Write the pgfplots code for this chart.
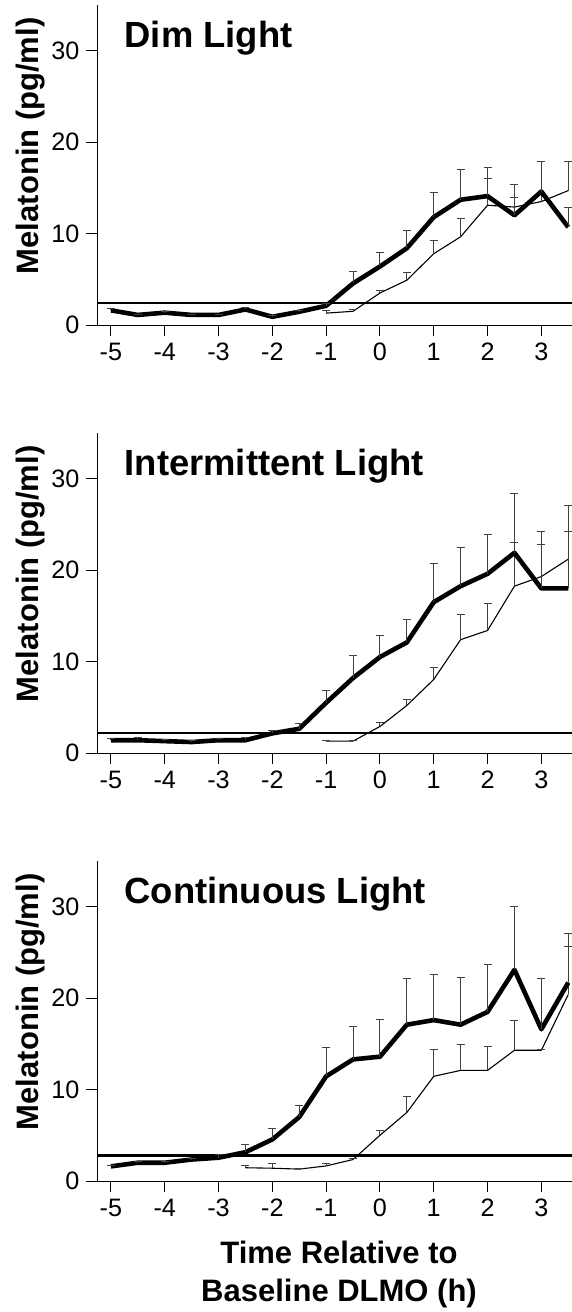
\documentclass[border=0pt]{standalone}
\usepackage{fontspec}
\setmainfont{Liberation Sans}
\usepackage{pgfplots}
\pgfplotsset{compat=1.18}

\tikzset{
  paneltitle/.style={anchor=base west, inner sep=0pt,
    font=\fontsize{18.2}{20}\selectfont\bfseries},
}
\pgfplotsset{
  melpanel/.style={
    scale only axis, width=237.25pt, height=160pt,
    xmin=-5.25, xmax=3.57, ymin=0, ymax=35,
    axis x line=bottom, axis y line=left,
    axis line style={-, line width=0.5pt},
    xtick={-5,...,3}, xticklabels={-5,-4,-3,-2,-1,0,1,2,3},
    ytick={0,10,20,30},
    tick align=outside, major tick length=5.5pt,
    tick style={black, line width=0.5pt},
    ticklabel style={font=\fontsize{12.6}{14}\selectfont},
    /pgf/number format/assume math mode=true,
    ylabel={Melatonin (pg/ml)},
    ylabel style={font=\fontsize{15.5}{18}\selectfont\bfseries,
      at={(axis description cs:-0.172,0.56)}, anchor=north, inner sep=0pt},
    anchor=north west,
  },
  meanline/.style={black, line width=2.3pt, line join=round, mark=none},
  thinline/.style={black, line width=0.55pt, line join=round, mark=none},
  limline/.style={black, line width=1.2pt, mark=none},
  errs/.style={error bars/.cd, y dir=plus, y explicit, error mark=-,
    error bar style={line width=0.5pt, black!75},
    error mark options={mark size=2pt, line width=0.5pt, black!75, rotate=90}},
}

\begin{document}
\begin{tikzpicture}
\useasboundingbox (0,0) rectangle (286pt,-656pt);

% Dim light
\begin{axis}[melpanel, at={(48.75pt,-2.5pt)}]
\addplot[limline] coordinates {(-5.25,2.4) (3.57,2.4)};
\addplot[thinline, errs] coordinates {
(-1,1.3) +- (0,0.3)
(-0.5,1.5) +- (0,0.2)
(0,3.5) +- (0,0.3)
(0.5,4.9) +- (0,0.8)
(1,7.8) +- (0,1.4)
(1.5,9.65) +- (0,1.95)
(2,13.1) +- (0,2.9)
(2.5,12.9) +- (0,1.1)
(3,13.5) +- (0,1.0)
(3.5,14.7) +- (0,3.2)
};
\addplot[meanline, errs] coordinates {
(-5,1.6) +- (0,0.2)
(-4.5,1.1) +- (0,0.1)
(-4,1.35) +- (0,0.1)
(-3.5,1.1) +- (0,0.1)
(-3,1.1) +- (0,0.1)
(-2.5,1.7) +- (0,0.2)
(-2,0.9) +- (0,0.1)
(-1.5,1.45) +- (0,0.1)
(-1,2.1) +- (0,0.3)
(-0.5,4.55) +- (0,1.25)
(0,6.4) +- (0,1.5)
(0.5,8.4) +- (0,1.9)
(1,11.8) +- (0,2.7)
(1.5,13.7) +- (0,3.3)
(2,14.1) +- (0,3.1)
(2.5,12.0) +- (0,3.4)
(3,14.6) +- (0,3.3)
(3.5,10.7) +- (0,2.1)
};
\node[paneltitle] at (rel axis cs:0.0565,0.866) {Dim Light};
\end{axis}

% Intermittent light
\begin{axis}[melpanel, at={(48.75pt,-216.5pt)}]
\addplot[limline] coordinates {(-5.25,2.2) (3.57,2.2)};
\addplot[thinline, errs] coordinates {
(-1,1.3) +- (0,0.1)
(-0.5,1.3) +- (0,0.1)
(0,2.9) +- (0,0.4)
(0.5,5.2) +- (0,0.6)
(1,8.05) +- (0,1.35)
(1.5,12.4) +- (0,2.8)
(2,13.4) +- (0,2.9)
(2.5,18.25) +- (0,4.75)
(3,19.3) +- (0,3.5)
(3.5,21.2) +- (0,3.0)
};
\addplot[meanline, errs] coordinates {
(-5,1.4) +- (0,0.2)
(-4.5,1.4) +- (0,0.3)
(-4,1.3) +- (0,0.2)
(-3.5,1.2) +- (0,0.2)
(-3,1.4) +- (0,0.2)
(-2.5,1.4) +- (0,0.3)
(-2,2.15) +- (0,0.3)
(-1.5,2.65) +- (0,0.55)
(-1,5.5) +- (0,1.3)
(-0.5,8.2) +- (0,2.5)
(0,10.5) +- (0,2.4)
(0.5,12.1) +- (0,2.5)
(1,16.5) +- (0,4.2)
(1.5,18.25) +- (0,4.25)
(2,19.6) +- (0,4.3)
(2.5,21.9) +- (0,6.5)
(3,18.0) +- (0,6.2)
(3.5,18.0) +- (0,9.1)
};
\node[paneltitle] at (rel axis cs:0.0565,0.866) {Intermittent Light};
\end{axis}

% Continuous light
\begin{axis}[melpanel, at={(48.75pt,-430.5pt)},
  xlabel={Time Relative to\\Baseline DLMO (h)},
  xlabel style={font=\fontsize{15.5}{18.9}\selectfont\bfseries, align=center,
    at={(axis description cs:0.509,0)}, anchor=north, inner sep=0pt, yshift=-30pt}]
\addplot[limline] coordinates {(-5.25,2.8) (3.57,2.8)};
\addplot[thinline, errs] coordinates {
(-2.5,1.45) +- (0,0.25)
(-2,1.4) +- (0,0.5)
(-1.5,1.3) +- (0,0.1)
(-1,1.65) +- (0,0.25)
(-0.5,2.35) +- (0,0.1)
(0,5.0) +- (0,0.55)
(0.5,7.5) +- (0,1.7)
(1,11.45) +- (0,2.95)
(1.5,12.1) +- (0,2.8)
(2,12.1) +- (0,2.6)
(2.5,14.3) +- (0,3.3)
(3,14.3) +- (0,0.1)
(3.5,20.4) +- (0,5.2)
};
\addplot[meanline, errs] coordinates {
(-5,1.6) +- (0,0.1)
(-4.5,2.0) +- (0,0.1)
(-4,2.0) +- (0,0.1)
(-3.5,2.35) +- (0,0.1)
(-3,2.55) +- (0,0.3)
(-2.5,3.15) +- (0,0.85)
(-2,4.55) +- (0,1.15)
(-1.5,7.0) +- (0,1.3)
(-1,11.45) +- (0,3.15)
(-0.5,13.3) +- (0,3.6)
(0,13.6) +- (0,4.1)
(0.5,17.1) +- (0,5.1)
(1,17.6) +- (0,5.0)
(1.5,17.1) +- (0,5.2)
(2,18.5) +- (0,5.2)
(2.5,23.1) +- (0,6.9)
(3,16.6) +- (0,5.6)
(3.5,21.7) +- (0,5.4)
};
\node[paneltitle] at (rel axis cs:0.0565,0.866) {Continuous Light};
\end{axis}
\end{tikzpicture}
\end{document}
